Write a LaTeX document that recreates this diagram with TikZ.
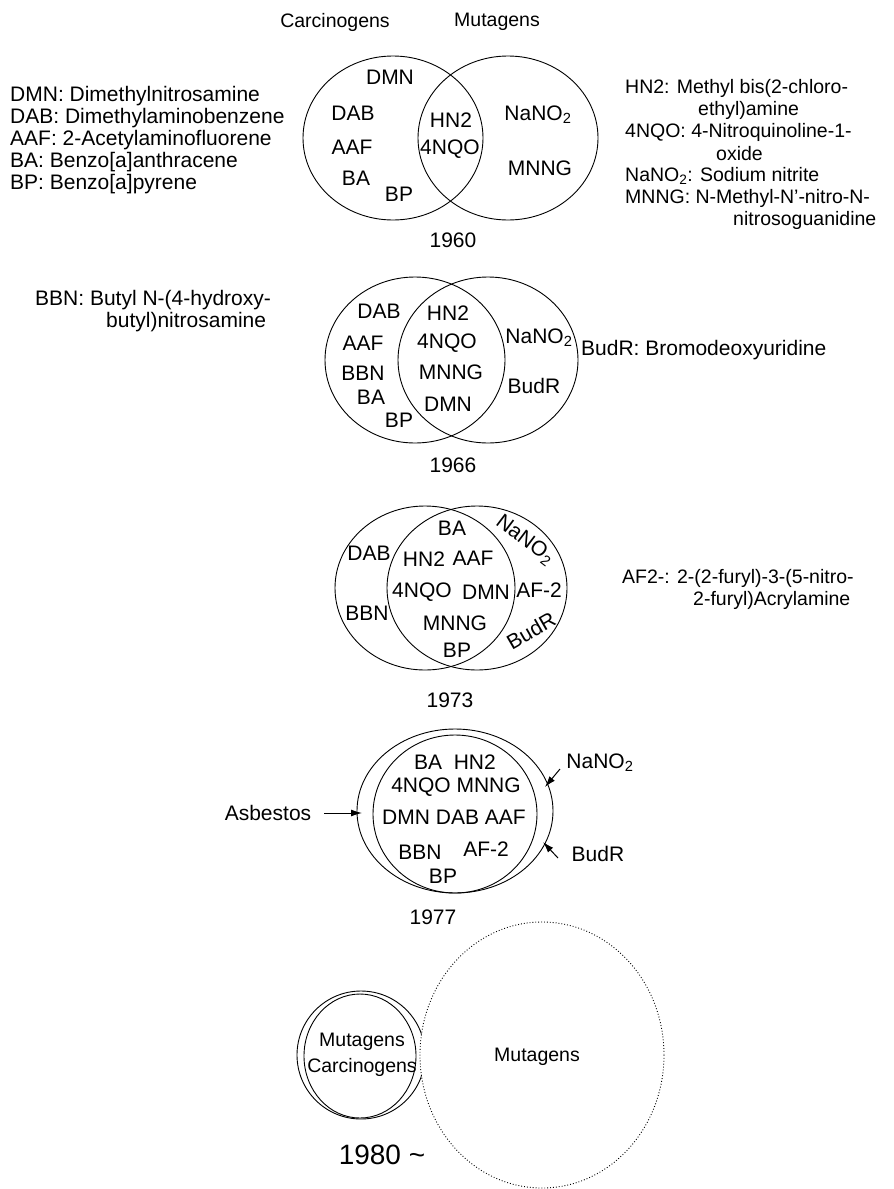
\documentclass[tikz,border=0pt]{standalone}
\usepackage{fontspec}
\setmainfont{Liberation Sans}
\usetikzlibrary{arrows.meta, positioning}

\begin{document}
\begin{tikzpicture}[
  x=1pt, y=-1pt,
  font=\fontsize{21}{22}\selectfont,
  >={Latex[length=11pt,width=7pt]},
  ring/.style={line width=0.9pt},
  lbl/.style={inner sep=0pt},
  key/.style={inner sep=0pt, anchor=west},
  rkey/.style={key, font=\fontsize{19.5}{21}\selectfont},
  small/.style={inner sep=0pt, font=\fontsize{19.5}{21}\selectfont},
  pointer/.style={->, line width=1pt}
]
\useasboundingbox (0,0) rectangle (894,1189);

% ---- 1960 ----
\node[small] (carc) at (335,22) {Carcinogens};
\node[small] (muta) at (497,22) {Mutagens};
\draw[ring] (393,138) ellipse [x radius=90, y radius=82];
\draw[ring] (508,138) ellipse [x radius=90, y radius=82];

\node[lbl] (dmnA) at (390,77) {DMN};
\node[lbl] (dabA) at (353,113) {DAB};
\node[lbl] (aafA) at (352,147) {AAF};
\node[lbl] (baA) at (356,178) {BA};
\node[lbl] (bpA) at (399,194) {BP};
\node[lbl] (hnA) at (451,120) {HN2};
\node[lbl] (nqoA) at (450,149) {4NQO};
\node[lbl] (nanoA) at (538,115) {NaNO\textsubscript{2}};
\node[lbl] (mnngA) at (540,168) {MNNG};
\node[lbl] (yrA) at (453,240) {1960};

% abbreviations, left
\node[key] (kDMN) at (10,96) {DMN: Dimethylnitrosamine};
\node[key] (kDAB) at (10,118) {DAB: Dimethylaminobenzene};
\node[key] (kAAF) at (10,140) {AAF: 2-Acetylaminofluorene};
\node[key] (kBA) at (10,162) {BA: Benzo[a]anthracene};
\node[key] (kBP) at (10,184) {BP: Benzo[a]pyrene};

% abbreviations, right
\node[rkey] (kHN) at (625,88) {HN2: Methyl bis(2-chloro-};
\node[rkey] (kHNb) at (698,110) {ethyl)amine};
\node[rkey] (kNQO) at (625,132) {4NQO: 4-Nitroquinoline-1-};
\node[rkey] (kNQOb) at (716,154) {oxide};
\node[rkey] (kNANO) at (625,176) {NaNO\textsubscript{2}: Sodium nitrite};
\node[rkey] (kMNNG) at (625,198) {MNNG: N-Methyl-N'-nitro-N-};
\node[rkey] (kMNNGb) at (733,220) {nitrosoguanidine};

% ---- 1966 ----
\draw[ring] (415,360) ellipse [x radius=90, y radius=83];
\draw[ring] (488,360) ellipse [x radius=90, y radius=83];

\node[lbl] (dabB) at (379,311) {DAB};
\node[lbl] (aafB) at (363,343) {AAF};
\node[lbl] (bbnB) at (363,373) {BBN};
\node[lbl] (baB) at (371,397) {BA};
\node[lbl] (bpB) at (399,420) {BP};
\node[lbl] (hnB) at (448,313) {HN2};
\node[lbl] (nqoB) at (447,343) {4NQO};
\node[lbl] (mnngB) at (451,372) {MNNG};
\node[lbl] (dmnB) at (448,404) {DMN};
\node[lbl] (nanoB) at (539,338) {NaNO\textsubscript{2}};
\node[lbl] (budB) at (534,386) {BudR};
\node[lbl] (yrB) at (453,465) {1966};

\node[key] (kBBN) at (35,300) {BBN: Butyl N-(4-hydroxy-};
\node[key] (kBBNb) at (106,322) {butyl)nitrosamine};
\node[key] (kBUD) at (581,350) {BudR: Bromodeoxyuridine};

% ---- 1973 ----
\draw[ring] (425,588) ellipse [x radius=90, y radius=82];
\draw[ring] (477,588) ellipse [x radius=90, y radius=82];

\node[lbl] (baC) at (452,528) {BA};
\node[lbl] (dabC) at (369,553) {DAB};
\node[lbl] (hnC) at (424,559) {HN2};
\node[lbl] (aafC) at (473,558) {AAF};
\node[lbl] (nqoC) at (422,592) {4NQO};
\node[lbl] (dmnC) at (486,592) {DMN};
\node[lbl] (afC) at (539,590) {AF-2};
\node[lbl] (bbnC) at (367,613) {BBN};
\node[lbl] (mnngC) at (455,623) {MNNG};
\node[lbl] (bpC) at (457,650) {BP};
\node[lbl, rotate=-37] (nanoC) at (525,540) {NaNO\textsubscript{2}};
\node[lbl, rotate=30] (budC) at (531,631) {BudR};
\node[lbl] (yrC) at (450,700) {1973};

\node[rkey] (kAF) at (622,578) {AF2-: 2-(2-furyl)-3-(5-nitro-};
\node[rkey] (kAFb) at (693,600) {2-furyl)Acrylamine};

% ---- 1977 ----
\draw[ring] (455,811) ellipse [x radius=98, y radius=82];
\draw[ring] (455,814) ellipse [x radius=82, y radius=79];

\node[lbl] (rowD1) at (455,762) {BA\ \ HN2};
\node[lbl] (rowD2) at (456,787) {4NQO MNNG};
\node[lbl] (rowD3) at (454,817) {DMN DAB AAF};
\node[lbl] (bbnD) at (420,852) {BBN};
\node[lbl] (afD) at (486,849) {AF-2};
\node[lbl] (bpD) at (443,876) {BP};
\node[lbl] (yrD) at (433,917) {1977};

\node[lbl] (asb) at (268,813) {Asbestos};
\node[lbl] (nanoD) at (600,763) {NaNO\textsubscript{2}};
\node[lbl] (budD) at (598,854) {BudR};
\coordinate (asbTip) at (362,813);
\coordinate (nanoTail) at (560,769);
\coordinate (nanoTip) at (545,787);
\coordinate (budTail) at (558,858);
\coordinate (budTip) at (543,842);
\draw[pointer] (asb.east) ++(13,0) -- (asbTip);
\draw[pointer] (nanoTail) -- (nanoTip);
\draw[pointer] (budTail) -- (budTip);

% ---- 1980 ----
\draw[ring] (361,1055) ellipse [x radius=64, y radius=64];
\draw[line width=0.9pt, dotted, fill=white] (542,1055) ellipse [x radius=122, y radius=133];
\draw[ring] (360,1056) ellipse [x radius=56, y radius=62];

\node[small] (mutE) at (362,1042) {Mutagens};
\node[small] (carE) at (362,1067) {Carcinogens};
\node[small] (mutBig) at (537,1057) {Mutagens};
\node[lbl, font=\fontsize{28}{30}\selectfont] (yrE) at (382,1155) {1980 \textasciitilde};

\end{tikzpicture}
\end{document}
